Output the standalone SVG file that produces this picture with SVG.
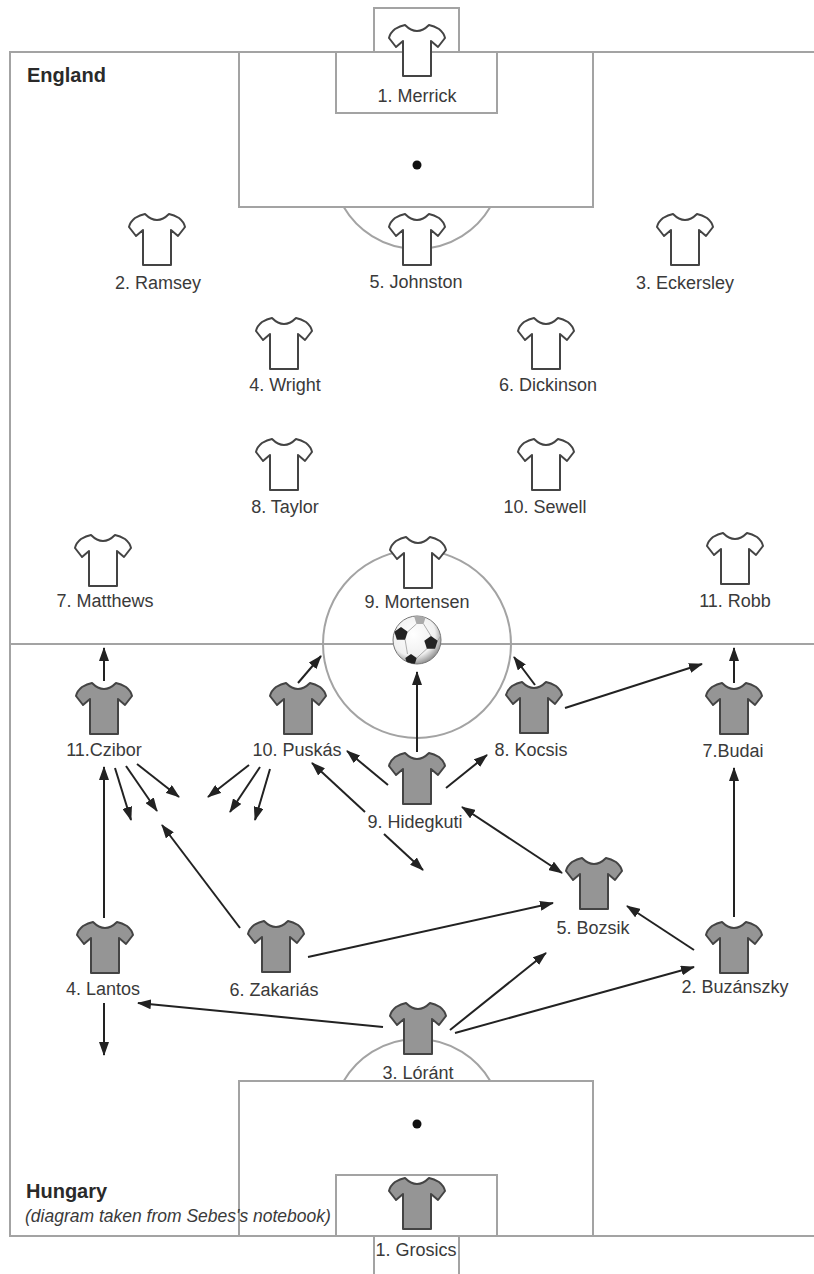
<svg xmlns="http://www.w3.org/2000/svg" xmlns:xlink="http://www.w3.org/1999/xlink" width="814" height="1274" viewBox="0 0 814 1274">
<style>
.line{fill:none;stroke:#a3a3a3;stroke-width:2}
.shirt{stroke:#444;stroke-width:2;stroke-linejoin:round}
.eng{fill:#fff}
.hun{fill:#959595}
.lbl{font-family:"Liberation Sans",Arial,sans-serif;font-size:18px;fill:#3a3a3a;text-anchor:middle}
.team{font-family:"Liberation Sans",Arial,sans-serif;font-size:20px;font-weight:bold;fill:#2a2a2a}
.note{font-family:"Liberation Sans",Arial,sans-serif;font-size:17.5px;font-style:italic;fill:#3a3a3a}
.arr{stroke:#222;stroke-width:2;fill:none;marker-end:url(#ah)}
.dbl{marker-start:url(#ahs)}
</style>
<defs>
<path id="shirt" d="M-12,0 Q0,12 12,0 Q17,1 22,4 Q27,8 28,13 L21,22 L14,16 L14,51 L-14,51 L-14,16 L-21,22 L-28,13 Q-27,8 -22,4 Q-17,1 -12,0 Z"/>
<marker id="ah" markerUnits="userSpaceOnUse" markerWidth="14" markerHeight="10" viewBox="0 0 14 10" refX="13" refY="5" orient="auto"><path d="M0,0 L14,5 L0,10 Z" fill="#222"/></marker>
<marker id="ahs" markerUnits="userSpaceOnUse" markerWidth="14" markerHeight="10" viewBox="0 0 14 10" refX="13" refY="5" orient="auto-start-reverse"><path d="M0,0 L14,5 L0,10 Z" fill="#222"/></marker>
<radialGradient id="ballg" cx="0.42" cy="0.38" r="0.65"><stop offset="0" stop-color="#fff"/><stop offset="0.7" stop-color="#f0f0f0"/><stop offset="1" stop-color="#8a8a8a"/></radialGradient>
<clipPath id="ballclip"><circle cx="417" cy="640" r="24"/></clipPath>
</defs>
<rect width="814" height="1274" fill="#fff"/>
<g id="pitch">
<path class="line" d="M814,52 H10 V1236 H814"/>
<line class="line" x1="10" y1="644" x2="814" y2="644"/>
<circle class="line" cx="417" cy="644" r="94"/>
<rect class="line" x="239" y="52" width="354" height="155"/>
<rect class="line" x="336" y="52" width="161" height="61"/>
<rect class="line" x="374" y="8" width="85" height="44"/>
<path class="line" d="M343.7,207 A85,85 0 0 0 490.3,207"/>
<circle cx="417" cy="165" r="4.5" fill="#111"/>
<rect class="line" x="239" y="1081" width="354" height="155"/>
<rect class="line" x="336" y="1175" width="161" height="61"/>
<rect class="line" x="374" y="1236" width="85" height="44"/>
<path class="line" d="M343.7,1081 A85,85 0 0 1 490.3,1081"/>
<circle cx="417" cy="1124" r="4.5" fill="#111"/>
<text class="team" x="27" y="82">England</text>
<text class="team" x="26" y="1198">Hungary</text>
<text class="note" x="25" y="1222">(diagram taken from Sebes's notebook)</text>
</g>
<g id="ball">
<circle cx="417" cy="640" r="24" fill="url(#ballg)" stroke="#777" stroke-width="1"/>
<g clip-path="url(#ballclip)">
<g stroke="#999" stroke-width="0.8" fill="none">
<line x1="407.7" y1="631.8" x2="416.5" y2="623.9"/>
<line x1="423.5" y1="623.9" x2="431" y2="636"/>
<line x1="405.1" y1="639.7" x2="407.5" y2="654"/>
<line x1="426.9" y1="648.7" x2="416.7" y2="658.1"/>
<line x1="394.3" y1="631.8" x2="392" y2="620"/>
<line x1="437.7" y1="640.8" x2="443" y2="632"/>
</g>
<polygon points="401,627 407.7,631.8 405.1,639.7 396.9,639.7 394.3,631.8" fill="#222"/>
<polygon points="431,636 437.7,640.8 435.1,648.7 426.9,648.7 424.3,640.8" fill="#222"/>
<polygon points="411,654 416.7,658.1 414.5,664.9 407.5,664.9 405.3,658.1" fill="#222"/>
<polygon points="420,613 425.7,617.1 423.5,623.9 416.5,623.9 414.3,617.1" fill="#aaa"/>
</g>
</g>
<g id="connectors">
<line class="arr" x1="104" y1="681" x2="104" y2="648"/>
<line class="arr" x1="115" y1="768" x2="131" y2="820"/>
<line class="arr" x1="126" y1="766" x2="157" y2="811"/>
<line class="arr" x1="137" y1="764" x2="179" y2="797"/>
<line class="arr" x1="249" y1="765" x2="208" y2="797"/>
<line class="arr" x1="260" y1="767" x2="230" y2="812"/>
<line class="arr" x1="270" y1="769" x2="255" y2="820"/>
<line class="arr" x1="104" y1="918" x2="104" y2="767"/>
<line class="arr" x1="240" y1="928" x2="162" y2="825"/>
<line class="arr" x1="104" y1="1003" x2="104" y2="1055"/>
<line class="arr" x1="383" y1="1027" x2="138" y2="1003"/>
<line class="arr" x1="308" y1="957" x2="553" y2="903"/>
<line class="arr" x1="450" y1="1030" x2="546" y2="953"/>
<line class="arr" x1="455" y1="1033" x2="694" y2="967"/>
<line class="arr" x1="694" y1="950" x2="627" y2="906"/>
<line class="arr" x1="734" y1="917" x2="734" y2="768"/>
<line class="arr" x1="734" y1="683" x2="734" y2="648"/>
<line class="arr" x1="565" y1="708" x2="702" y2="664"/>
<line class="arr" x1="535" y1="685" x2="514" y2="657"/>
<line class="arr" x1="298" y1="683" x2="321" y2="656"/>
<line class="arr" x1="417" y1="752" x2="417" y2="672"/>
<line class="arr" x1="388" y1="785" x2="347" y2="751"/>
<line class="arr" x1="446" y1="788" x2="487" y2="755"/>
<line class="arr" x1="365" y1="812" x2="312" y2="763"/>
<line class="arr" x1="384" y1="834" x2="423" y2="870"/>
<line class="arr dbl" x1="462" y1="807" x2="562" y2="873"/>
</g>
<g id="eng-1"><use href="#shirt" class="shirt eng" x="417" y="25"/><text class="lbl" x="417" y="102">1. Merrick</text></g>
<g id="eng-2"><use href="#shirt" class="shirt eng" x="157" y="214"/><text class="lbl" x="158" y="289">2. Ramsey</text></g>
<g id="eng-5"><use href="#shirt" class="shirt eng" x="417" y="214"/><text class="lbl" x="416" y="288">5. Johnston</text></g>
<g id="eng-3"><use href="#shirt" class="shirt eng" x="685" y="214"/><text class="lbl" x="685" y="289">3. Eckersley</text></g>
<g id="eng-4"><use href="#shirt" class="shirt eng" x="284" y="318"/><text class="lbl" x="285" y="391">4. Wright</text></g>
<g id="eng-6"><use href="#shirt" class="shirt eng" x="546" y="318"/><text class="lbl" x="548" y="391">6. Dickinson</text></g>
<g id="eng-8"><use href="#shirt" class="shirt eng" x="284" y="439"/><text class="lbl" x="285" y="513">8. Taylor</text></g>
<g id="eng-10"><use href="#shirt" class="shirt eng" x="546" y="439"/><text class="lbl" x="545" y="513">10. Sewell</text></g>
<g id="eng-7"><use href="#shirt" class="shirt eng" x="103" y="535"/><text class="lbl" x="105" y="607">7. Matthews</text></g>
<g id="eng-9"><use href="#shirt" class="shirt eng" x="418" y="537"/><text class="lbl" x="417" y="608">9. Mortensen</text></g>
<g id="eng-11"><use href="#shirt" class="shirt eng" x="735" y="533"/><text class="lbl" x="735" y="607">11. Robb</text></g>
<g id="hun-11"><use href="#shirt" class="shirt hun" x="104" y="683"/><text class="lbl" x="104" y="756">11.Czibor</text></g>
<g id="hun-10"><use href="#shirt" class="shirt hun" x="298" y="683"/><text class="lbl" x="297" y="756">10. Puskás</text></g>
<g id="hun-8"><use href="#shirt" class="shirt hun" x="534" y="682"/><text class="lbl" x="531" y="756">8. Kocsis</text></g>
<g id="hun-7"><use href="#shirt" class="shirt hun" x="734" y="683"/><text class="lbl" x="733" y="757">7.Budai</text></g>
<g id="hun-9"><use href="#shirt" class="shirt hun" x="417" y="753"/><text class="lbl" x="415" y="828">9. Hidegkuti</text></g>
<g id="hun-5"><use href="#shirt" class="shirt hun" x="594" y="858"/><text class="lbl" x="593" y="934">5. Bozsik</text></g>
<g id="hun-4"><use href="#shirt" class="shirt hun" x="105" y="922"/><text class="lbl" x="103" y="995">4. Lantos</text></g>
<g id="hun-6"><use href="#shirt" class="shirt hun" x="276" y="921"/><text class="lbl" x="274" y="996">6. Zakariás</text></g>
<g id="hun-2"><use href="#shirt" class="shirt hun" x="734" y="922"/><text class="lbl" x="735" y="993">2. Buzánszky</text></g>
<g id="hun-3"><use href="#shirt" class="shirt hun" x="418" y="1003"/><text class="lbl" x="418" y="1079">3. Lóránt</text></g>
<g id="hun-1"><use href="#shirt" class="shirt hun" x="417" y="1178"/><text class="lbl" x="416" y="1256">1. Grosics</text></g>
</svg>
